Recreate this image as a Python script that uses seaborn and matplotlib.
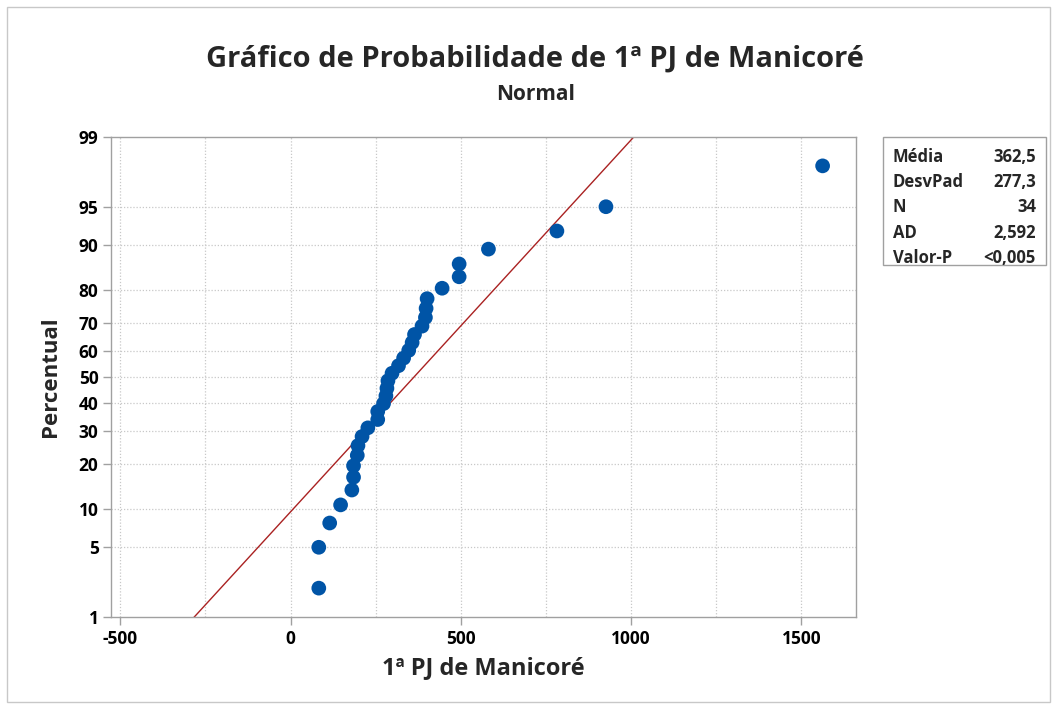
import numpy as np
import pandas as pd
import matplotlib
matplotlib.use("Agg")
import matplotlib.pyplot as plt
import seaborn as sns
from statistics import NormalDist

# Observed values of "1ª PJ de Manicoré" (sorted)
valores = [83, 83, 115, 147, 180, 185, 185, 196, 198, 210, 227, 256, 256,
           273, 280, 283, 286, 298, 317, 332, 347, 357, 364, 386, 396, 398,
           401, 445, 495, 495, 581, 782, 926, 1562]

# Summary statistics shown in the side table
media = 362.5
desvpad = 277.3
n_obs = 34
ad = "2,592"
valor_p = "<0,005"

y_ticks = [1, 5, 10, 20, 30, 40, 50, 60, 70, 80, 90, 95, 99]
x_ticks = [-500, 0, 500, 1000, 1500]

# Median-rank plotting positions (Benard)
n = len(valores)
ranks = np.arange(1, n + 1)
percent = (ranks - 0.3) / (n + 0.4) * 100
df = pd.DataFrame({"valor": valores, "percentual": percent})

_nd = NormalDist()
_ppf = np.vectorize(lambda v: _nd.inv_cdf(v / 100.0), otypes=[float])
_cdf = np.vectorize(lambda v: _nd.cdf(v) * 100.0, otypes=[float])


def fwd(p):
    p = np.clip(np.asarray(p, dtype=float), 1e-6, 100 - 1e-6)
    return _ppf(p)


def inv(z):
    return _cdf(np.asarray(z, dtype=float))


sns.set_style("white")
plt.rcParams["font.family"] = ["Open Sans", "DejaVu Sans"]

fig = plt.figure(figsize=(10.57, 7.09), dpi=100)
ax = fig.add_axes([111 / 1057, 1 - 617 / 709, (856 - 111) / 1057, (617 - 137) / 709])
ax.set_yscale("function", functions=(fwd, inv))

# Fitted normal line
zz = np.linspace(-2.6, 2.6, 200)
fit = pd.DataFrame({"valor": media + desvpad * zz, "percentual": inv(zz)})
sns.lineplot(data=fit, x="valor", y="percentual", ax=ax, color="#AA2222",
             linewidth=1.0, sort=False, zorder=2)

sns.scatterplot(data=df, x="valor", y="percentual", ax=ax, color="#0054A6",
                s=112, edgecolor="none", zorder=3)

ax.set_xlim(-527, 1660)
ax.set_ylim(1, 99)
ax.set_yticks(y_ticks)
ax.set_yticklabels([str(t) for t in y_ticks])
ax.minorticks_off()
ax.set_xticks(x_ticks)
ax.set_xticklabels([str(t) for t in x_ticks])

# Dotted grid every 250 on x and at every percent tick on y
for xv in np.arange(-500, 1660, 250):
    ax.axvline(xv, color="#C8C8C8", linestyle=(0, (1, 1.5)), linewidth=0.9, zorder=0)
for yv in y_ticks[1:-1]:
    ax.axhline(yv, color="#C8C8C8", linestyle=(0, (1, 1.5)), linewidth=0.9, zorder=0)

for sp in ax.spines.values():
    sp.set_color("#A0A0A0")
    sp.set_linewidth(1.0)

ax.tick_params(axis="both", which="major", length=6, width=1.0, color="#A0A0A0",
               labelsize=12.5, direction="out", pad=3, labelcolor="black",
               bottom=True, left=True)
for lbl in ax.get_xticklabels() + ax.get_yticklabels():
    lbl.set_fontweight("bold")

ax.set_xlabel("1ª PJ de Manicoré", fontsize=17, fontweight="bold", labelpad=6)
ax.set_ylabel("Percentual", fontsize=16, fontweight="bold", labelpad=13)

fig.text(0.5065, 1 - 59 / 709, "Gráfico de Probabilidade de 1ª PJ de Manicoré",
         ha="center", va="center", fontsize=21, fontweight="bold")
fig.text(0.5065, 1 - 94 / 709, "Normal", ha="center", va="center",
         fontsize=15, fontweight="bold")

# Statistics table
box = plt.Rectangle((883 / 1057, 1 - 265 / 709), (1046 - 883) / 1057, (265 - 137) / 709,
                    transform=fig.transFigure, facecolor="white", edgecolor="#A0A0A0",
                    linewidth=1.0)
fig.add_artist(box)
rows = [("Média", f"{media:.1f}".replace(".", ",")),
        ("DesvPad", f"{desvpad:.1f}".replace(".", ",")),
        ("N", str(n_obs)),
        ("AD", ad),
        ("Valor-P", valor_p)]
for i, (k, v) in enumerate(rows):
    yy = 1 - (157 + i * 25.2) / 709
    fig.text(893 / 1057, yy, k, ha="left", va="center", fontsize=12, fontweight="bold")
    fig.text(1036 / 1057, yy, v, ha="right", va="center", fontsize=12, fontweight="bold")

# Outer frame
frame = plt.Rectangle((7 / 1057, 7 / 709), 1 - 14 / 1057, 1 - 14 / 709,
                      transform=fig.transFigure, facecolor="none", edgecolor="#C8C8C8",
                      linewidth=1.0)
fig.add_artist(frame)

fig.savefig("out.png", dpi=100)
